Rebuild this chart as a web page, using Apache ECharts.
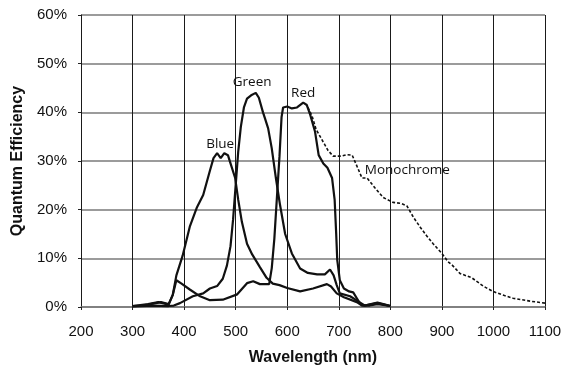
<!DOCTYPE html>
<html>
<head>
<meta charset="utf-8">
<script src="https://cdn.jsdelivr.net/npm/echarts@6/dist/echarts.min.js"></script>
<style>
  html, body { margin: 0; padding: 0; background: #fff; }
  #Chart1 { width: 566px; height: 371px; }
</style>
</head>
<body>
<div id="Chart1"></div>
<script>
// wavelength (nm) / quantum efficiency (%)
const blueNm  = [300, 320, 340, 355, 370, 378, 385, 397, 411, 425, 437, 450, 457, 464, 471, 478, 485, 490, 499, 505, 512, 522, 532, 547, 560, 572, 585, 600, 625, 650, 677, 685, 696, 710, 735, 745, 760, 775, 790, 800]
const blueQe  = [0.2, 0.3, 0.7, 1.0, 0.6, 2.5, 6.5, 10.5, 16.5, 20.5, 23, 28, 30.6, 31.6, 30.6, 31.6, 31.2, 29.5, 26.5, 22, 17.5, 13, 10.8, 8.2, 6, 4.8, 4.5, 3.9, 3.2, 3.8, 4.7, 4.2, 2.8, 2.0, 1.0, 0.3, 0.3, 0.6, 0.4, 0.2]

const greenNm = [300, 340, 370, 380, 392, 417, 437, 450, 464, 475, 483, 490, 495, 500, 505, 510, 516, 522, 530, 539, 545, 553, 557, 563, 570, 578, 586, 596, 609, 625, 640, 658, 673, 683, 690, 696, 702, 722, 737, 750, 775, 800]
const greenQe = [0.1, 0.3, 0.2, 0.3, 0.8, 2.2, 2.8, 3.8, 4.3, 5.8, 8.5, 12.5, 18, 25, 32, 37, 41, 42.8, 43.5, 44, 43, 40, 38.7, 36.7, 32.6, 26.5, 21, 15, 11, 7.9, 7.0, 6.7, 6.7, 7.7, 6.5, 4.5, 2.8, 2.2, 1.2, 0.3, 0.8, 0.2]

const redNm   = [300, 330, 350, 370, 378, 385, 395, 411, 431, 450, 475, 503, 522, 534, 547, 565, 570, 575, 580, 585, 589, 592, 600, 609, 619, 631, 638, 644, 654, 661, 670, 678, 687, 692, 695, 697, 702, 710, 720, 728, 735, 742, 750, 775, 790, 800]
const redQe   = [0.2, 0.6, 1.0, 0.5, 2.5, 5.5, 4.8, 3.6, 2.2, 1.4, 1.5, 2.6, 4.9, 5.3, 4.7, 4.7, 8, 14, 22.5, 31, 39, 41, 41.2, 40.8, 41, 42, 41.5, 39.7, 36, 31.2, 29.5, 28.6, 26.5, 22, 15, 9.7, 5.5, 3.8, 3.2, 3.0, 1.8, 0.6, 0.3, 0.9, 0.5, 0.2]

const monoNm  = [640, 648, 656, 664, 672, 679, 689, 705, 715, 726, 735, 745, 755, 770, 786, 805, 820, 832, 845, 858, 870, 883, 900, 912, 920, 935, 958, 980, 999, 1020, 1038, 1071, 1100]
const monoQe  = [41, 39.3, 36.5, 35, 33.5, 32.2, 31, 31, 31.3, 31.2, 29, 26.5, 26.5, 24.5, 22.5, 21.5, 21.3, 20.8, 18.4, 16.4, 14.7, 13, 11, 9.3, 8.6, 6.9, 6.0, 4.3, 3.2, 2.4, 1.8, 1.2, 0.8]

// curve names and where they sit on the plot [nm, %]
const curveNames = ['Blue', 'Green', 'Red', 'Monochrome']
const labelAt = [[470, 33.4], [532, 46.2], [631, 44.0], [833, 28.2]]

const xTicks = { min: 200, max: 1100, step: 100 }
const yTicks = { min: 0, max: 60, step: 10 }

function pairs(xs, ys) {
    return xs.map((x, i) => [x, ys[i]])
}

function curve(name, xs, ys, idx, dashed) {
    return {
        name: name,
        type: 'line',
        data: pairs(xs, ys),
        symbol: 'none',
        smooth: false,
        lineStyle: {
            color: '#111111',
            width: dashed ? 1.6 : 2.2,
            type: dashed ? [3, 2] : 'solid'
        },
        markPoint: {
            silent: true,
            symbol: 'circle',
            symbolSize: 1,
            itemStyle: { color: 'rgba(0,0,0,0)' },
            label: {
                show: true,
                position: 'inside',
                formatter: name,
                color: '#111111',
                fontSize: 13.5,
                fontFamily: 'Open Sans'
            },
            data: [{ coord: labelAt[idx] }]
        }
    }
}

const myChart1 = echarts.init(document.getElementById('Chart1'), null, { renderer: 'canvas' })
myChart1.setOption({
    animation: false,
    backgroundColor: '#ffffff',
    grid: {
        left: 81,
        right: 21,
        top: 15,
        bottom: 60
    },
    xAxis: {
        type: 'value',
        min: xTicks.min,
        max: xTicks.max,
        interval: xTicks.step,
        name: 'Wavelength (nm)',
        nameLocation: 'middle',
        nameGap: 43,
        nameTextStyle: {
            color: '#111111',
            fontSize: 16,
            fontWeight: 'bold',
            fontFamily: 'Liberation Sans'
        },
        axisLine: {
            show: true,
            lineStyle: { color: '#7a7a7a', width: 1.5 }
        },
        axisTick: {
            show: true,
            length: 3,
            lineStyle: { color: '#222222' }
        },
        axisLabel: {
            color: '#111111',
            fontSize: 15,
            fontFamily: 'Liberation Sans',
            margin: 17,
            formatter: (v) => String(v)
        },
        splitLine: {
            show: true,
            lineStyle: { color: '#1a1a1a', width: 1 }
        }
    },
    yAxis: {
        type: 'value',
        min: yTicks.min,
        max: yTicks.max,
        interval: yTicks.step,
        name: 'Quantum Efficiency',
        nameLocation: 'middle',
        nameGap: 54,
        nameTextStyle: {
            color: '#111111',
            fontSize: 16,
            fontWeight: 'bold',
            fontFamily: 'Liberation Sans'
        },
        axisLine: {
            show: true,
            lineStyle: { color: '#1a1a1a', width: 1 }
        },
        axisTick: {
            show: true,
            length: 3,
            lineStyle: { color: '#222222' }
        },
        axisLabel: {
            color: '#111111',
            fontSize: 15,
            fontFamily: 'Liberation Sans',
            margin: 14,
            formatter: '{value}%'
        },
        splitLine: {
            show: true,
            lineStyle: { color: '#7a7a7a', width: 1.5 }
        }
    },
    series: [
        curve(curveNames[0], blueNm, blueQe, 0, false),
        curve(curveNames[1], greenNm, greenQe, 1, false),
        curve(curveNames[2], redNm, redQe, 2, false),
        curve(curveNames[3], monoNm, monoQe, 3, true)
    ]
})
</script>
</body>
</html>
